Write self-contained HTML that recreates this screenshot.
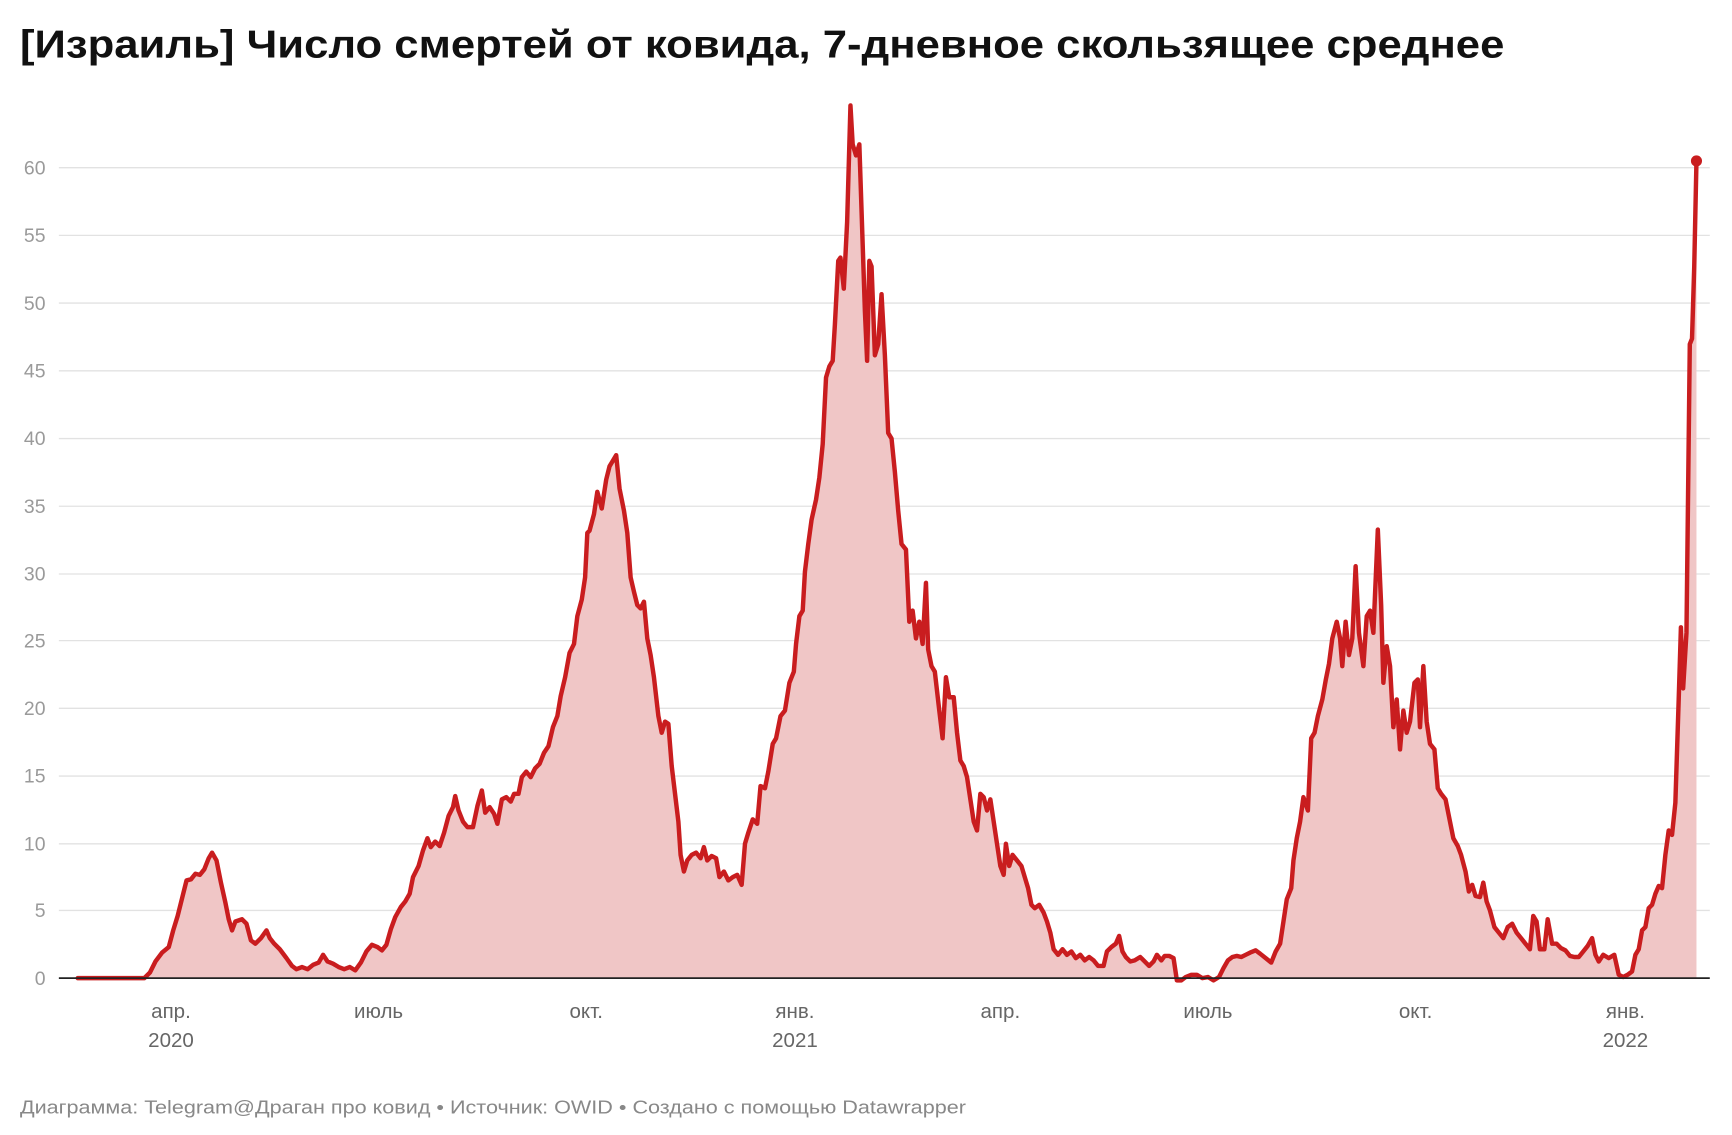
<!DOCTYPE html>
<html><head><meta charset="utf-8"><style>
html,body{margin:0;padding:0;background:#fff;}
svg{display:block;}
text{font-family:"Liberation Sans","DejaVu Sans",sans-serif;}
</style></head><body>
<svg width="1732" height="1135" viewBox="0 0 1560 1022.3" xmlns="http://www.w3.org/2000/svg">
<text x="18" y="52" font-size="35" font-weight="bold" fill="#111" textLength="1337" lengthAdjust="spacingAndGlyphs">[Израиль] Число смертей от ковида, 7-дневное скользящее среднее</text>
<g stroke="#e2e2e2" stroke-width="1.2">
<line x1="53" x2="1540" y1="151" y2="151"/><line x1="53" x2="1540" y1="212" y2="212"/>
<line x1="53" x2="1540" y1="273" y2="273"/><line x1="53" x2="1540" y1="334" y2="334"/>
<line x1="53" x2="1540" y1="395" y2="395"/><line x1="53" x2="1540" y1="456" y2="456"/>
<line x1="53" x2="1540" y1="517" y2="517"/><line x1="53" x2="1540" y1="577" y2="577"/>
<line x1="53" x2="1540" y1="638" y2="638"/><line x1="53" x2="1540" y1="699" y2="699"/>
<line x1="53" x2="1540" y1="760" y2="760"/><line x1="53" x2="1540" y1="820" y2="820"/>
</g>
<g font-size="17.5" fill="#9a9a9a" text-anchor="end">
<text x="41" y="157">60</text><text x="41" y="218">55</text><text x="41" y="279">50</text>
<text x="41" y="340">45</text><text x="41" y="401">40</text><text x="41" y="462">35</text>
<text x="41" y="523">30</text><text x="41" y="583">25</text><text x="41" y="644">20</text>
<text x="41" y="705">15</text><text x="41" y="766">10</text><text x="41" y="826">5</text>
<text x="41" y="887">0</text>
</g>
<polygon fill="#f0c6c6" points="70,881 130,881 135,876 140,866 146,858 152,853 156,838 160,825 165,805 168,793 172,792 176,787 180,788 184,783 188,773 191,768 195,775 199,795 203,813 206,828 209,838 212,830 218,828 222,832 226,847 230,850 235,845 240,838 243,845 247,850 252,855 258,863 263,870 267,873 272,871 277,873 282,869 287,867 291,860 295,866 300,868 305,871 310,873 315,871 320,874 325,867 330,857 335,851 340,853 344,856 348,851 352,837 356,826 361,817 365,812 369,805 372,790 377,780 381,766 385,755 388,763 392,758 396,762 400,750 404,735 408,727 410,717 413,730 417,740 421,745 426,745 430,726 434,712 437,732 441,727 445,733 448,742 452,720 456,718 460,722 463,715 467,715 470,700 474,695 478,700 482,692 486,688 490,678 494,672 498,655 502,645 505,627 509,610 513,588 517,580 520,555 524,540 527,520 529,480 531,478 535,463 538,443 542,458 546,432 549,420 552,415 555,410 558,440 562,460 565,480 568,520 571,533 574,545 577,548 580,542 583,575 586,590 589,610 593,645 596,660 599,650 602,652 605,690 608,715 611,740 613,770 616,785 619,775 623,770 627,768 631,773 634,763 637,775 641,771 645,773 648,790 652,785 656,793 660,790 664,788 668,797 671,760 674,750 678,738 682,742 685,708 689,710 692,695 696,670 699,665 703,645 707,640 711,615 715,605 717,580 720,555 723,550 725,515 728,490 731,468 735,450 738,430 741,400 744,340 747,330 750,325 752,292 755,235 757,232 760,260 763,200 766,95 768,130 771,140 774,130 777,220 779,280 781,325 783,235 785,240 788,320 791,310 794,265 797,320 800,390 803,395 806,425 809,460 812,490 816,495 819,560 822,550 825,575 828,560 831,580 834,525 836,585 839,600 842,605 846,640 849,665 852,610 855,628 859,628 862,660 865,685 868,690 871,700 874,720 877,740 880,748 883,715 886,718 889,730 892,720 895,740 898,760 901,780 904,788 906,760 909,780 912,770 916,775 920,780 923,790 926,800 929,815 932,818 936,815 940,822 943,830 946,840 949,855 953,860 957,855 961,860 965,857 969,863 973,860 977,865 981,862 985,865 989,870 994,870 997,857 1001,853 1005,850 1008,843 1011,857 1014,862 1018,866 1022,865 1027,862 1031,866 1035,870 1039,866 1042,860 1046,865 1049,861 1053,861 1057,863 1060,883 1064,883 1068,880 1073,878 1078,878 1083,881 1088,880 1093,883 1098,880 1102,872 1106,865 1110,862 1114,861 1118,862 1122,860 1126,858 1131,856 1135,859 1140,863 1145,867 1149,857 1153,850 1156,830 1159,810 1163,800 1165,775 1168,755 1171,740 1174,718 1178,730 1181,665 1184,660 1187,645 1191,630 1194,613 1197,598 1200,575 1204,560 1207,575 1209,600 1212,560 1215,590 1218,575 1221,510 1224,570 1228,600 1231,555 1234,550 1237,570 1241,477 1244,545 1246,615 1249,582 1252,600 1255,655 1258,630 1261,675 1264,640 1267,660 1270,650 1274,615 1277,612 1279,655 1282,600 1285,650 1288,670 1292,675 1295,710 1298,715 1302,720 1305,735 1309,755 1313,762 1316,770 1320,785 1323,803 1326,797 1329,807 1333,808 1336,795 1339,812 1342,820 1346,835 1350,840 1354,845 1358,835 1362,832 1366,840 1370,845 1374,850 1378,855 1381,825 1384,830 1387,855 1391,855 1394,828 1398,850 1402,850 1406,854 1410,856 1414,861 1418,862 1422,862 1426,857 1430,852 1434,845 1437,860 1440,866 1444,860 1449,863 1454,860 1458,878 1462,880 1466,878 1470,875 1473,860 1476,855 1479,838 1482,835 1485,818 1488,815 1491,805 1494,798 1497,800 1500,770 1503,748 1506,752 1509,723 1512,630 1514,565 1516,620 1519,570 1522,310 1524,305 1526,240 1528,145 1528,881"/>
<polyline fill="none" stroke="#c91d1f" stroke-width="4" stroke-linejoin="round" stroke-linecap="round" points="70,881 130,881 135,876 140,866 146,858 152,853 156,838 160,825 165,805 168,793 172,792 176,787 180,788 184,783 188,773 191,768 195,775 199,795 203,813 206,828 209,838 212,830 218,828 222,832 226,847 230,850 235,845 240,838 243,845 247,850 252,855 258,863 263,870 267,873 272,871 277,873 282,869 287,867 291,860 295,866 300,868 305,871 310,873 315,871 320,874 325,867 330,857 335,851 340,853 344,856 348,851 352,837 356,826 361,817 365,812 369,805 372,790 377,780 381,766 385,755 388,763 392,758 396,762 400,750 404,735 408,727 410,717 413,730 417,740 421,745 426,745 430,726 434,712 437,732 441,727 445,733 448,742 452,720 456,718 460,722 463,715 467,715 470,700 474,695 478,700 482,692 486,688 490,678 494,672 498,655 502,645 505,627 509,610 513,588 517,580 520,555 524,540 527,520 529,480 531,478 535,463 538,443 542,458 546,432 549,420 552,415 555,410 558,440 562,460 565,480 568,520 571,533 574,545 577,548 580,542 583,575 586,590 589,610 593,645 596,660 599,650 602,652 605,690 608,715 611,740 613,770 616,785 619,775 623,770 627,768 631,773 634,763 637,775 641,771 645,773 648,790 652,785 656,793 660,790 664,788 668,797 671,760 674,750 678,738 682,742 685,708 689,710 692,695 696,670 699,665 703,645 707,640 711,615 715,605 717,580 720,555 723,550 725,515 728,490 731,468 735,450 738,430 741,400 744,340 747,330 750,325 752,292 755,235 757,232 760,260 763,200 766,95 768,130 771,140 774,130 777,220 779,280 781,325 783,235 785,240 788,320 791,310 794,265 797,320 800,390 803,395 806,425 809,460 812,490 816,495 819,560 822,550 825,575 828,560 831,580 834,525 836,585 839,600 842,605 846,640 849,665 852,610 855,628 859,628 862,660 865,685 868,690 871,700 874,720 877,740 880,748 883,715 886,718 889,730 892,720 895,740 898,760 901,780 904,788 906,760 909,780 912,770 916,775 920,780 923,790 926,800 929,815 932,818 936,815 940,822 943,830 946,840 949,855 953,860 957,855 961,860 965,857 969,863 973,860 977,865 981,862 985,865 989,870 994,870 997,857 1001,853 1005,850 1008,843 1011,857 1014,862 1018,866 1022,865 1027,862 1031,866 1035,870 1039,866 1042,860 1046,865 1049,861 1053,861 1057,863 1060,883 1064,883 1068,880 1073,878 1078,878 1083,881 1088,880 1093,883 1098,880 1102,872 1106,865 1110,862 1114,861 1118,862 1122,860 1126,858 1131,856 1135,859 1140,863 1145,867 1149,857 1153,850 1156,830 1159,810 1163,800 1165,775 1168,755 1171,740 1174,718 1178,730 1181,665 1184,660 1187,645 1191,630 1194,613 1197,598 1200,575 1204,560 1207,575 1209,600 1212,560 1215,590 1218,575 1221,510 1224,570 1228,600 1231,555 1234,550 1237,570 1241,477 1244,545 1246,615 1249,582 1252,600 1255,655 1258,630 1261,675 1264,640 1267,660 1270,650 1274,615 1277,612 1279,655 1282,600 1285,650 1288,670 1292,675 1295,710 1298,715 1302,720 1305,735 1309,755 1313,762 1316,770 1320,785 1323,803 1326,797 1329,807 1333,808 1336,795 1339,812 1342,820 1346,835 1350,840 1354,845 1358,835 1362,832 1366,840 1370,845 1374,850 1378,855 1381,825 1384,830 1387,855 1391,855 1394,828 1398,850 1402,850 1406,854 1410,856 1414,861 1418,862 1422,862 1426,857 1430,852 1434,845 1437,860 1440,866 1444,860 1449,863 1454,860 1458,878 1462,880 1466,878 1470,875 1473,860 1476,855 1479,838 1482,835 1485,818 1488,815 1491,805 1494,798 1497,800 1500,770 1503,748 1506,752 1509,723 1512,630 1514,565 1516,620 1519,570 1522,310 1524,305 1526,240 1528,145"/>
<circle cx="1528" cy="145" r="5" fill="#c91d1f"/>
<line x1="53" x2="1540" y1="881" y2="881" stroke="#222" stroke-width="1.6"/>
<g font-size="18.5" fill="#666" text-anchor="middle">
<text x="154" y="917">апр.</text><text x="154" y="943">2020</text>
<text x="341" y="917">июль</text>
<text x="528" y="917">окт.</text>
<text x="716" y="917">янв.</text><text x="716" y="943">2021</text>
<text x="901" y="917">апр.</text>
<text x="1088" y="917">июль</text>
<text x="1275" y="917">окт.</text>
<text x="1464" y="917">янв.</text><text x="1464" y="943">2022</text>
</g>
<text x="18" y="1003" font-size="16.5" fill="#888" textLength="852" lengthAdjust="spacingAndGlyphs">Диаграмма: Telegram@Драган про ковид • Источник: OWID • Создано с помощью Datawrapper</text>
</svg>
</body></html>
